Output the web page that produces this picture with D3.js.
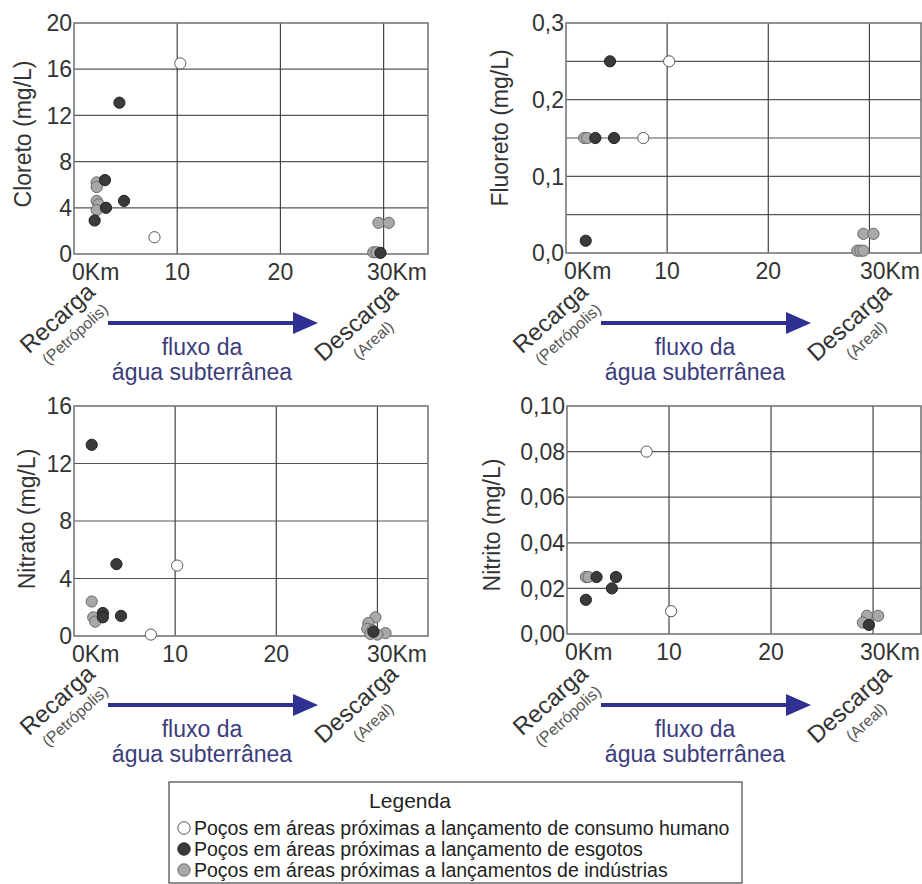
<!DOCTYPE html>
<html>
<head>
<meta charset="utf-8">
<script src="https://cdn.jsdelivr.net/npm/d3@7"></script>
<style>
  body { margin: 0; background: #fff; }
  svg { display: block; font-family: "Liberation Sans", Arial, sans-serif; }
</style>
</head>
<body>
<div id="chart"></div>
<script>
'use strict';

// data: [distance km, concentration mg/L]
var cloretoHumano = [[10.3, 16.5], [7.8, 1.45]];
var cloretoEsgoto = [[4.4, 13.1], [3.0, 6.4], [4.85, 4.6], [3.1, 4.0], [2.0, 2.9], [29.7, 0.1]];
var cloretoIndustria = [[2.2, 6.2], [2.2, 5.8], [2.2, 4.6], [2.4, 4.3], [2.2, 3.8], [29.5, 2.7], [30.5, 2.7], [29.0, 0.15], [29.3, 0.15]];

var fluoretoHumano = [[10.2, 0.25], [7.65, 0.15]];
var fluoretoEsgoto = [[4.35, 0.25], [2.9, 0.15], [4.75, 0.15], [1.95, 0.016]];
var fluoretoIndustria = [[1.8, 0.15], [2.1, 0.15], [29.4, 0.025], [30.4, 0.025], [28.8, 0.003], [29.1, 0.003], [29.4, 0.003]];

var nitratoHumano = [[10.2, 4.9], [7.6, 0.1]];
var nitratoEsgoto = [[1.75, 13.3], [4.2, 5.0], [2.85, 1.6], [2.85, 1.3], [4.65, 1.4], [29.6, 0.3]];
var nitratoIndustria = [[1.75, 2.4], [1.9, 1.3], [2.1, 1.0], [29.8, 1.3], [29.1, 0.9], [29.0, 0.5], [29.5, 0.4], [29.3, 0.15], [30.8, 0.2], [30.0, 0.1]];

var nitritoHumano = [[7.8, 0.08], [10.2, 0.01]];
var nitritoEsgoto = [[2.9, 0.025], [4.8, 0.025], [4.4, 0.02], [1.85, 0.015], [29.6, 0.004]];
var nitritoIndustria = [[1.85, 0.025], [2.1, 0.025], [29.4, 0.008], [30.5, 0.008], [29.0, 0.005]];

var xTicks = [0, 10, 20, 30];
var cloretoTicks = [0, 4, 8, 12, 16, 20];
var fluoretoTicks = [0, 0.1, 0.2, 0.3];
var fluoretoGrid = [0.05, 0.1, 0.15, 0.2, 0.25];
var nitratoTicks = [0, 4, 8, 12, 16];
var nitritoTicks = [0, 0.02, 0.04, 0.06, 0.08, 0.10];

var legendTitle = 'Legenda';
var legendLabels = [
  'Poços em áreas próximas a lançamento de consumo humano',
  'Poços em áreas próximas a lançamento de esgotos',
  'Poços em áreas próximas a lançamentos de indústrias'
];

var W = 922, H = 884;
var styles = {
  humano: { fill: '#ffffff', stroke: '#555' },
  esgoto: { fill: '#3a3a3a', stroke: '#222' },
  industria: { fill: '#a8a8a8', stroke: '#6a6a6a' }
};
var txt = '#333';
var locale = d3.formatLocale({ decimal: ',', thousands: '.', grouping: [3], currency: ['R$', ''] });

var svg = d3.select('#chart').append('svg')
  .attr('width', W)
  .attr('height', H);

var panels = [
  { title: 'Cloreto (mg/L)', left: 74, right: 428, top: 23, bottom: 254, xMax: 34.3, yMax: 20,
    ticks: cloretoTicks, grid: cloretoTicks, fmt: locale.format('d'), labelX: 23, labelY: 134,
    humano: cloretoHumano, esgoto: cloretoEsgoto, industria: cloretoIndustria },
  { title: 'Fluoreto (mg/L)', left: 566, right: 921, top: 23, bottom: 253, xMax: 35.1, yMax: 0.3,
    ticks: fluoretoTicks, grid: fluoretoGrid, fmt: locale.format('.1f'), labelX: 500, labelY: 128,
    humano: fluoretoHumano, esgoto: fluoretoEsgoto, industria: fluoretoIndustria },
  { title: 'Nitrato (mg/L)', left: 74, right: 428, top: 406, bottom: 636, xMax: 35, yMax: 16,
    ticks: nitratoTicks, grid: nitratoTicks, fmt: locale.format('d'), labelX: 27, labelY: 519,
    humano: nitratoHumano, esgoto: nitratoEsgoto, industria: nitratoIndustria },
  { title: 'Nitrito (mg/L)', left: 567, right: 921, top: 406, bottom: 634, xMax: 34.7, yMax: 0.1,
    ticks: nitritoTicks, grid: nitritoTicks, fmt: locale.format('.2f'), labelX: 492, labelY: 525,
    humano: nitritoHumano, esgoto: nitritoEsgoto, industria: nitritoIndustria }
];

panels.forEach(function (p) {
  var x = d3.scaleLinear().domain([0, p.xMax]).range([p.left, p.right]);
  var y = d3.scaleLinear().domain([0, p.yMax]).range([p.bottom, p.top]);
  var g = svg.append('g');

  // grid
  g.selectAll('line.hgrid')
    .data(p.grid.filter(function (d) { return d > 0 && d < p.yMax - 1e-9; }))
    .enter().append('line')
    .attr('x1', p.left).attr('x2', p.right)
    .attr('y1', function (d) { return y(d); }).attr('y2', function (d) { return y(d); })
    .style('stroke', '#555').style('stroke-width', 1.2);
  g.selectAll('line.vgrid')
    .data(xTicks.filter(function (d) { return d > 0; }))
    .enter().append('line')
    .attr('x1', function (d) { return x(d); }).attr('x2', function (d) { return x(d); })
    .attr('y1', p.top).attr('y2', p.bottom)
    .style('stroke', '#444').style('stroke-width', 1.2);

  // frame
  g.append('rect')
    .attr('x', p.left).attr('y', p.top)
    .attr('width', p.right - p.left).attr('height', p.bottom - p.top)
    .style('fill', 'none').style('stroke', '#777').style('stroke-width', 1.6);

  // y tick labels
  g.selectAll('text.ytick')
    .data(p.ticks)
    .enter().append('text')
    .attr('x', p.left - 2)
    .attr('y', function (d) { return y(d); })
    .attr('dy', '0.36em')
    .style('text-anchor', 'end')
    .style('font-size', '23px')
    .style('fill', txt)
    .text(function (d) { return p.fmt(d); });

  // x tick labels, 30Km ends at the right frame
  g.selectAll('text.xtick')
    .data(xTicks)
    .enter().append('text')
    .attr('x', function (d) {
      if (d === 0) return x(d) - 2;
      if (d === 30) return p.right - 1;
      return x(d);
    })
    .attr('y', p.bottom + 26)
    .style('text-anchor', function (d) {
      if (d === 0) return 'start';
      if (d === 30) return 'end';
      return 'middle';
    })
    .style('font-size', '23px')
    .style('fill', txt)
    .text(function (d) { return (d === 0 || d === 30) ? d + 'Km' : d; });

  // y title
  g.append('text')
    .attr('transform', 'translate(' + p.labelX + ',' + p.labelY + ') rotate(-90)')
    .attr('dy', '0.35em')
    .style('text-anchor', 'middle')
    .style('font-size', '23px')
    .style('fill', txt)
    .text(p.title);

  // points: industries, sewage, human consumption
  ['industria', 'esgoto', 'humano'].forEach(function (k) {
    g.selectAll('circle.' + k)
      .data(p[k])
      .enter().append('circle')
      .attr('cx', function (d) { return x(d[0]); })
      .attr('cy', function (d) { return y(d[1]); })
      .attr('r', 5.6)
      .style('fill', styles[k].fill)
      .style('stroke', styles[k].stroke)
      .style('stroke-width', 1);
  });
});

// groundwater flow annotation under each panel
var arrowBlue = '#2e3192';
var flowText = '#3c3c7c';
function drawFlow(dx, dy) {
  var g = svg.append('g').attr('transform', 'translate(' + dx + ',' + dy + ')');
  var rot = -42;

  g.append('text')
    .attr('transform', 'translate(57,318) rotate(' + rot + ')')
    .attr('dy', '0.35em')
    .style('text-anchor', 'middle').style('font-size', '24px').style('fill', txt)
    .text('Recarga');
  g.append('text')
    .attr('transform', 'translate(75,334) rotate(' + rot + ')')
    .attr('dy', '0.35em')
    .style('text-anchor', 'middle').style('font-size', '16px').style('fill', '#555')
    .text('(Petrópolis)');
  g.append('text')
    .attr('transform', 'translate(356,322) rotate(' + rot + ')')
    .attr('dy', '0.35em')
    .style('text-anchor', 'middle').style('font-size', '24px').style('fill', txt)
    .text('Descarga');
  g.append('text')
    .attr('transform', 'translate(373,340) rotate(' + rot + ')')
    .attr('dy', '0.35em')
    .style('text-anchor', 'middle').style('font-size', '16px').style('fill', '#555')
    .text('(Areal)');

  g.append('line')
    .attr('x1', 108).attr('x2', 298)
    .attr('y1', 323).attr('y2', 323)
    .style('stroke', arrowBlue).style('stroke-width', 4);
  g.append('path')
    .attr('d', 'M293,312 L318,323 L293,334 Z')
    .style('fill', arrowBlue);

  g.append('text')
    .attr('x', 202).attr('y', 355)
    .style('text-anchor', 'middle').style('font-size', '23px').style('fill', flowText)
    .text('fluxo da');
  g.append('text')
    .attr('x', 202).attr('y', 380)
    .style('text-anchor', 'middle').style('font-size', '23px').style('fill', flowText)
    .text('água subterrânea');
}
drawFlow(0, 0);
drawFlow(493, 0);
drawFlow(0, 382);
drawFlow(493, 382);

// legend box
var legend = svg.append('g').attr('class', 'legend');
legend.append('rect')
  .attr('x', 169).attr('y', 782)
  .attr('width', 573).attr('height', 101)
  .style('fill', '#fff').style('stroke', '#444').style('stroke-width', 1.2);
legend.append('text')
  .attr('x', 410).attr('y', 808)
  .style('text-anchor', 'middle').style('font-size', '21px').style('fill', '#222')
  .text(legendTitle);
var legendKeys = ['humano', 'esgoto', 'industria'];
var rows = legend.selectAll('g.row')
  .data(legendLabels)
  .enter().append('g')
  .attr('transform', function (d, i) { return 'translate(0,' + (835 + i * 21) + ')'; });
rows.append('circle')
  .attr('cx', 184).attr('cy', -7).attr('r', 6.2)
  .style('fill', function (d, i) { return styles[legendKeys[i]].fill; })
  .style('stroke', function (d, i) { return styles[legendKeys[i]].stroke; })
  .style('stroke-width', 1);
rows.append('text')
  .attr('x', 194).attr('y', 0)
  .style('font-size', '19.5px').style('fill', '#222')
  .text(function (d) { return d; });
</script>
</body>
</html>
